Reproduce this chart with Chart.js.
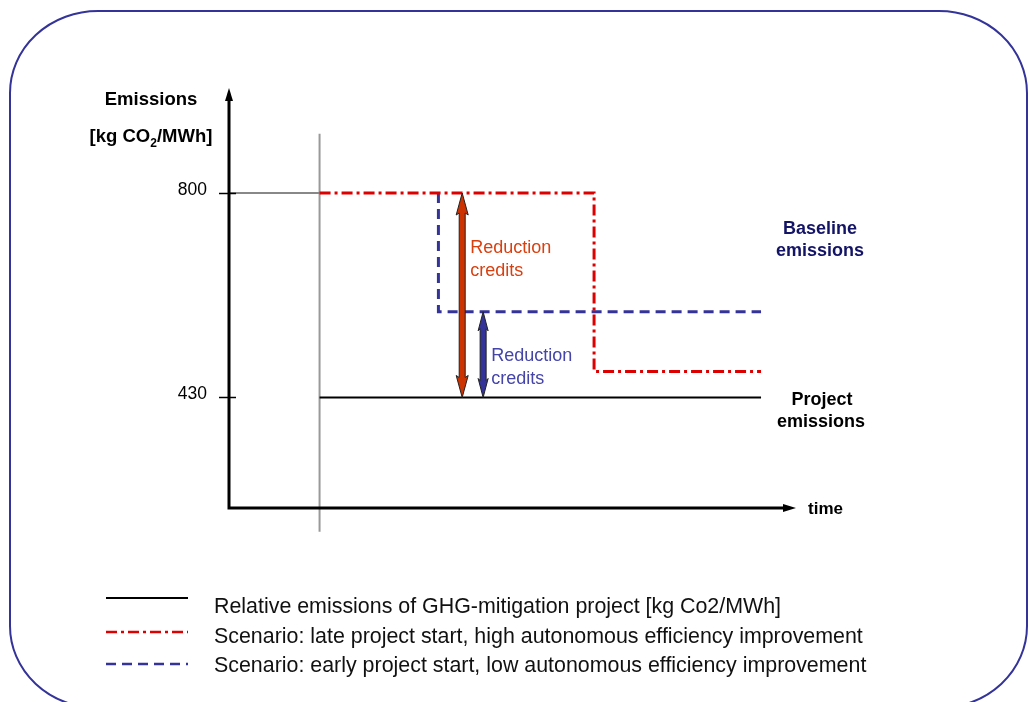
<!DOCTYPE html>
<html>
<head>
<meta charset="utf-8">
<script src="https://cdn.jsdelivr.net/npm/chart.js@4/dist/chart.umd.min.js"></script>
<style>
  html, body { margin: 0; padding: 0; background: #fff; }
  canvas { display: block; }
</style>
</head>
<body>
<canvas id="chart" width="1029" height="702"></canvas>
<script>
// --- data (time is in arbitrary units, emissions in kg CO2/MWh) ---
const timeRange = [0, 100];
const emissionRange = [230, 990];
const yTickValues = [800, 430];
const yTickLabels = ['800', '430'];

const projectTime = [16, 94];
const projectValues = [430, 430];

const lateTime = [16, 64.5, 64.5, 94];
const lateValues = [800, 800, 477, 477];

const earlyTime = [37, 37, 94];
const earlyValues = [800, 585, 585];

const startMarkerTime = [16, 16];
const startMarkerValues = [907, 187];
const baselineGuideTime = [0, 16];
const baselineGuideValues = [800, 800];

const creditTime = [41.2, 44.9];
const creditTop = [800, 585];
const creditBottom = [430, 430];

const legendLabels = [
    'Relative emissions of GHG-mitigation project [kg Co2/MWh]',
    'Scenario: late project start, high autonomous efficiency improvement',
    'Scenario: early project start, low autonomous efficiency improvement'
];

const FONT = '"Liberation Sans", Arial, Helvetica, sans-serif';

function toPoints(xs, ys) {
    return xs.map((x, i) => ({ x: x, y: ys[i] }));
}

// Double headed arrow between two values on the y scale
function drawDoubleArrow(ctx, x, yTop, yBot, fill, headLen, headHalf) {
    const sw = 3;
    ctx.beginPath();
    ctx.moveTo(x, yTop);
    ctx.lineTo(x + headHalf, yTop + headLen);
    ctx.lineTo(x + sw, yTop + headLen - 2);
    ctx.lineTo(x + sw, yBot - headLen + 2);
    ctx.lineTo(x + headHalf, yBot - headLen);
    ctx.lineTo(x, yBot);
    ctx.lineTo(x - headHalf, yBot - headLen);
    ctx.lineTo(x - sw, yBot - headLen + 2);
    ctx.lineTo(x - sw, yTop + headLen - 2);
    ctx.lineTo(x - headHalf, yTop + headLen);
    ctx.closePath();
    ctx.fillStyle = fill;
    ctx.fill();
    ctx.lineWidth = 1;
    ctx.strokeStyle = '#222';
    ctx.stroke();
}

const diagramPlugin = {
    id: 'diagram',
    beforeDraw(chart) {
        const ctx = chart.ctx;
        // rounded frame round the slide
        ctx.save();
        ctx.strokeStyle = '#333399';
        ctx.lineWidth = 2;
        const l = 10, t = 11, r = 1027, b = 708, rx = 88, ry = 82;
        ctx.beginPath();
        ctx.moveTo(l + rx, t);
        ctx.lineTo(r - rx, t);
        ctx.ellipse(r - rx, t + ry, rx, ry, 0, -Math.PI / 2, 0);
        ctx.lineTo(r, b - ry);
        ctx.ellipse(r - rx, b - ry, rx, ry, 0, 0, Math.PI / 2);
        ctx.lineTo(l + rx, b);
        ctx.ellipse(l + rx, b - ry, rx, ry, 0, Math.PI / 2, Math.PI);
        ctx.lineTo(l, t + ry);
        ctx.ellipse(l + rx, t + ry, rx, ry, 0, Math.PI, Math.PI * 1.5);
        ctx.stroke();
        ctx.restore();
    },
    afterDatasetsDraw(chart) {
        const ctx = chart.ctx;
        const xs = chart.scales.x, ys = chart.scales.y;
        const area = chart.chartArea;
        ctx.save();

        // axes with arrow heads
        ctx.strokeStyle = '#000';
        ctx.fillStyle = '#000';
        ctx.lineWidth = 3;
        ctx.beginPath();
        ctx.moveTo(area.left, area.top + 10);
        ctx.lineTo(area.left, area.bottom);
        ctx.lineTo(area.right - 10, area.bottom);
        ctx.stroke();
        ctx.beginPath();
        ctx.moveTo(area.left, area.top);
        ctx.lineTo(area.left + 4, area.top + 13);
        ctx.lineTo(area.left - 4, area.top + 13);
        ctx.closePath();
        ctx.fill();
        ctx.beginPath();
        ctx.moveTo(area.right + 1, area.bottom);
        ctx.lineTo(area.right - 12, area.bottom + 4);
        ctx.lineTo(area.right - 12, area.bottom - 4);
        ctx.closePath();
        ctx.fill();

        // y ticks and labels
        ctx.lineWidth = 1.5;
        ctx.font = '17.5px ' + FONT;
        ctx.textAlign = 'right';
        ctx.textBaseline = 'middle';
        yTickValues.forEach((v, i) => {
            const py = Math.round(ys.getPixelForValue(v)) + 0.5;
            ctx.beginPath();
            ctx.moveTo(area.left - 10, py);
            ctx.lineTo(area.left + 7, py);
            ctx.stroke();
            ctx.fillText(yTickLabels[i], area.left - 22, py - 3);
        });

        // reduction credit arrows
        const arrowFills = ['#cc3300', '#333399'];
        const arrowHeads = [[22, 6], [19, 5]];
        creditTime.forEach((t, i) => {
            drawDoubleArrow(ctx, xs.getPixelForValue(t),
                ys.getPixelForValue(creditTop[i]), ys.getPixelForValue(creditBottom[i]),
                arrowFills[i], arrowHeads[i][0], arrowHeads[i][1]);
        });

        // annotation texts
        ctx.textBaseline = 'middle';
        ctx.textAlign = 'left';
        ctx.font = '18px ' + FONT;
        ctx.fillStyle = '#d94010';
        let ax = xs.getPixelForValue(creditTime[0]) + 8;
        let ay = ys.getPixelForValue(700);
        ctx.fillText('Reduction', ax, ay);
        ctx.fillText('credits', ax, ay + 23);
        ctx.fillStyle = '#4444aa';
        ax = xs.getPixelForValue(creditTime[1]) + 8;
        ay = ys.getPixelForValue(505);
        ctx.fillText('Reduction', ax, ay);
        ctx.fillText('credits', ax, ay + 23);

        ctx.font = 'bold 18px ' + FONT;
        ctx.textAlign = 'center';
        ctx.fillStyle = '#141466';
        ctx.fillText('Baseline', 820, 229);
        ctx.fillText('emissions', 820, 251);
        ctx.fillStyle = '#000';
        ctx.fillText('Project', 822, 400);
        ctx.fillText('emissions', 821, 422);
        ctx.textAlign = 'left';
        ctx.font = 'bold 17px ' + FONT;
        ctx.fillText('time', area.right + 13, area.bottom + 1);

        // y axis title with subscript
        ctx.textAlign = 'center';
        ctx.font = 'bold 18.5px ' + FONT;
        ctx.fillText('Emissions', 151, 100);
        const parts = ['[kg CO', '2', '/MWh]'];
        const bigFont = 'bold 18.5px ' + FONT, smallFont = 'bold 12px ' + FONT;
        ctx.font = bigFont;
        const w0 = ctx.measureText(parts[0]).width;
        const w2 = ctx.measureText(parts[2]).width;
        ctx.font = smallFont;
        const w1 = ctx.measureText(parts[1]).width;
        let tx = 151 - (w0 + w1 + w2) / 2;
        ctx.textAlign = 'left';
        ctx.textBaseline = 'alphabetic';
        ctx.font = bigFont;
        ctx.fillText(parts[0], tx, 142);
        tx += w0;
        ctx.font = smallFont;
        ctx.fillText(parts[1], tx, 147);
        tx += w1;
        ctx.font = bigFont;
        ctx.fillText(parts[2], tx, 142);

        // legend, drawn with the styles of the datasets
        const legendY = [598, 632, 664];
        const textY = [613, 643, 672];
        ctx.font = '21.4px ' + FONT;
        legendLabels.forEach((label, i) => {
            const ds = chart.data.datasets[i];
            ctx.save();
            ctx.strokeStyle = ds.borderColor;
            ctx.lineWidth = Math.min(ds.borderWidth, 2.5);
            ctx.setLineDash(ds.borderDash || []);
            ctx.beginPath();
            ctx.moveTo(106, legendY[i]);
            ctx.lineTo(188, legendY[i]);
            ctx.stroke();
            ctx.restore();
            ctx.fillStyle = '#111';
            ctx.fillText(label, 214, textY[i]);
        });

        ctx.restore();
    }
};

new Chart(document.getElementById('chart'), {
    type: 'line',
    data: {
        datasets: [
            {
                label: legendLabels[0],
                data: toPoints(projectTime, projectValues),
                borderColor: '#000',
                borderWidth: 2,
                order: 3
            },
            {
                label: legendLabels[1],
                data: toPoints(lateTime, lateValues),
                borderColor: '#dd0000',
                borderWidth: 3,
                borderDash: [11, 4, 3, 4],
                order: 1
            },
            {
                label: legendLabels[2],
                data: toPoints(earlyTime, earlyValues),
                borderColor: '#333399',
                borderWidth: 3,
                borderDash: [10, 6],
                order: 2
            },
            {
                label: 'project start',
                data: toPoints(startMarkerTime, startMarkerValues),
                borderColor: '#999',
                borderWidth: 2,
                clip: false,
                order: 5
            },
            {
                label: 'baseline guide',
                data: toPoints(baselineGuideTime, baselineGuideValues),
                borderColor: '#888',
                borderWidth: 2,
                order: 4
            }
        ]
    },
    options: {
        responsive: false,
        animation: false,
        layout: { padding: { left: 229, right: 234, top: 88, bottom: 194 } },
        elements: { point: { radius: 0 }, line: { tension: 0, borderCapStyle: 'butt', borderJoinStyle: 'miter' } },
        scales: {
            x: { type: 'linear', min: timeRange[0], max: timeRange[1], display: false },
            y: { type: 'linear', min: emissionRange[0], max: emissionRange[1], display: false }
        },
        plugins: { legend: { display: false }, tooltip: { enabled: false } }
    },
    plugins: [diagramPlugin]
});
</script>
</body>
</html>
